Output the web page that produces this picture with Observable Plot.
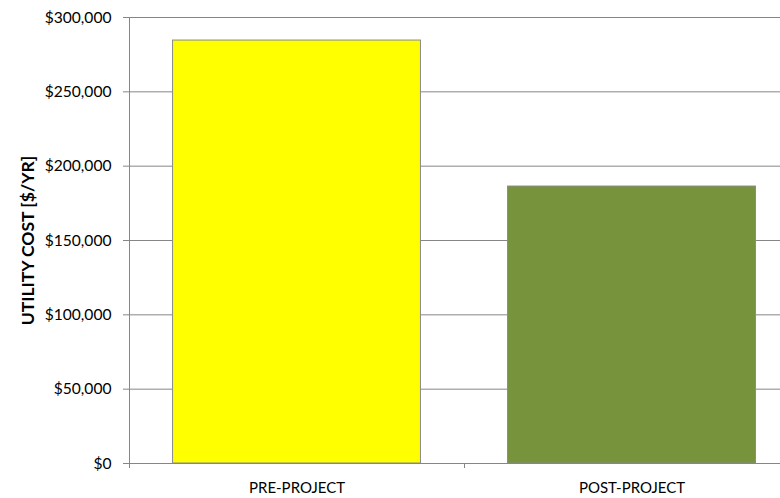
<!DOCTYPE html>
<html>
<head>
<meta charset="utf-8">
<script src="https://cdn.jsdelivr.net/npm/d3@7"></script>
<script src="https://cdn.jsdelivr.net/npm/@observablehq/plot@0.6"></script>
<style>
  html, body { margin: 0; padding: 0; background: #fff; }
  #chart svg { display: block; }
</style>
</head>
<body>
<div id="chart"></div>
<script>
const categories = ["PRE-PROJECT", "POST-PROJECT"];
const costs = [284500, 186300];
const yTicks = [0, 50000, 100000, 150000, 200000, 250000, 300000];
const colors = ["#FFFF00", "#77933C"];
const yLabel = "UTILITY COST [$/YR]";

const data = categories.map((c, i) => ({category: c, index: i, cost: costs[i], color: colors[i]}));
const pad = 0.13;
const grid = "#868686";
const font = "Lato, 'Noto Sans', sans-serif";

const chart = Plot.plot({
  width: 780,
  height: 498,
  marginLeft: 129,
  marginRight: 0,
  marginTop: 17,
  marginBottom: 35,
  style: {fontFamily: font, fontSize: "15px", color: "#000", background: "#fff", overflow: "visible"},
  x: {type: "linear", domain: [0, 2], range: [129, 799]},
  y: {domain: [0, 300000]},
  marks: [
    Plot.ruleY(yTicks, {y: d => d, stroke: grid, strokeWidth: 1}),
    Plot.rectY(data, {x1: d => d.index + pad, x2: d => d.index + 1 - pad, y1: 0, y2: "cost", fill: "color", stroke: "#8a8a8a", strokeWidth: 1}),
    Plot.ruleX([0], {stroke: grid, strokeWidth: 1}),
    Plot.ruleY([0], {stroke: grid, strokeWidth: 1}),
    Plot.axisY({ticks: yTicks, tickSize: 6, tickPadding: 12, stroke: grid, tickFormat: d3.format("$,.0f"), fill: "#000", label: null, fontSize: 15.6}),
    Plot.axisX({ticks: [0, 1, 2], tickSize: 5, stroke: grid, tickFormat: () => "", label: null}),
    Plot.axisX({ticks: categories.map((c, i) => i + 0.5), tickSize: 0, tickPadding: 19, tickFormat: t => categories[Math.floor(t)], fill: "#000", label: null, fontSize: 15}),
    Plot.text([yLabel], {text: d => d, frameAnchor: "left", textAnchor: "middle", rotate: -90, dx: -101, fontWeight: "bold", fontSize: 17.5, fill: "#000"})
  ]
});
document.getElementById("chart").appendChild(chart);
</script>
</body>
</html>
